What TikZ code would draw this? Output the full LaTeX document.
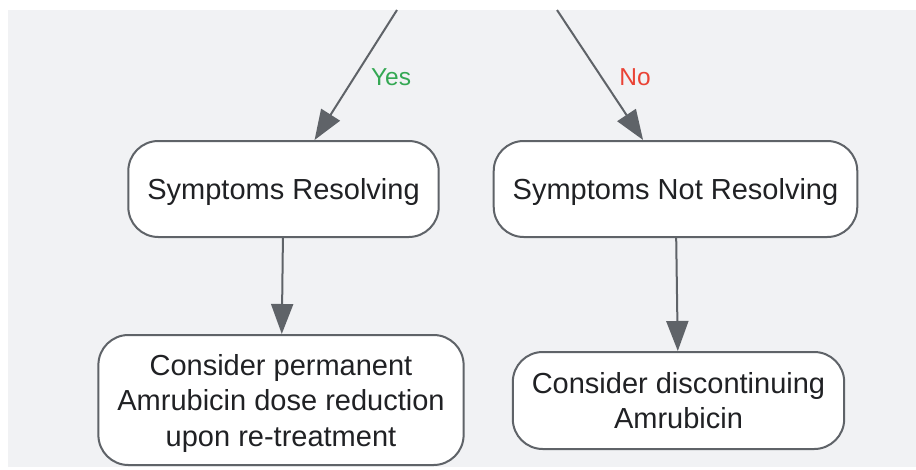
\documentclass[tikz,border=0pt]{standalone}
\usepackage{fontspec}
\setmainfont{Liberation Sans}
\usetikzlibrary{arrows.meta}
\tikzset{>={Triangle[width=22pt,length=30pt]}}
\definecolor{edgegray}{HTML}{5F6368}
\definecolor{textdark}{HTML}{202124}
\definecolor{bggray}{HTML}{F1F2F4}
\definecolor{yesgreen}{HTML}{34A853}
\definecolor{nored}{HTML}{EA4335}

\begin{document}
\begin{tikzpicture}[x=1pt,y=-1pt,
  box/.style={draw=edgegray, line width=2pt, fill=white, rounded corners=30pt,
    align=center, text=textdark, font=\fontsize{29}{35.5}\selectfont,
    inner xsep=19pt, inner ysep=0pt, text depth=0pt, minimum height=96pt},
  flow/.style={->, draw=edgegray, line width=2pt},
  lbl/.style={font=\fontsize{24.5}{28}\selectfont, anchor=west, yshift=-2pt}]

  \useasboundingbox (0,0) rectangle (916,469);
  \fill[bggray] (8,10) rectangle (916,467);

  \coordinate (yestop) at (397,10);
  \coordinate (notop) at (557,10);

  \node[box] (res) at (283.5,189) {Symptoms Resolving};
  \node[box] (notres) at (675.5,189) {Symptoms Not Resolving};
  \node[box, minimum height=130pt] (perm) at (281,400)
    {Consider permanent\\Amrubicin dose reduction\\upon re-treatment};
  \node[box, minimum height=97pt] (disc) at (678.5,400.5)
    {Consider discontinuing\\Amrubicin};

  \draw[flow](yestop)--node[lbl, text=yesgreen, xshift=11pt]{Yes}(res);
  \draw[flow](notop)--node[lbl, text=nored, xshift=15pt]{No}(notres);
  \draw[flow](res)--(perm);
  \draw[flow](notres)--(disc);
\end{tikzpicture}
\end{document}
